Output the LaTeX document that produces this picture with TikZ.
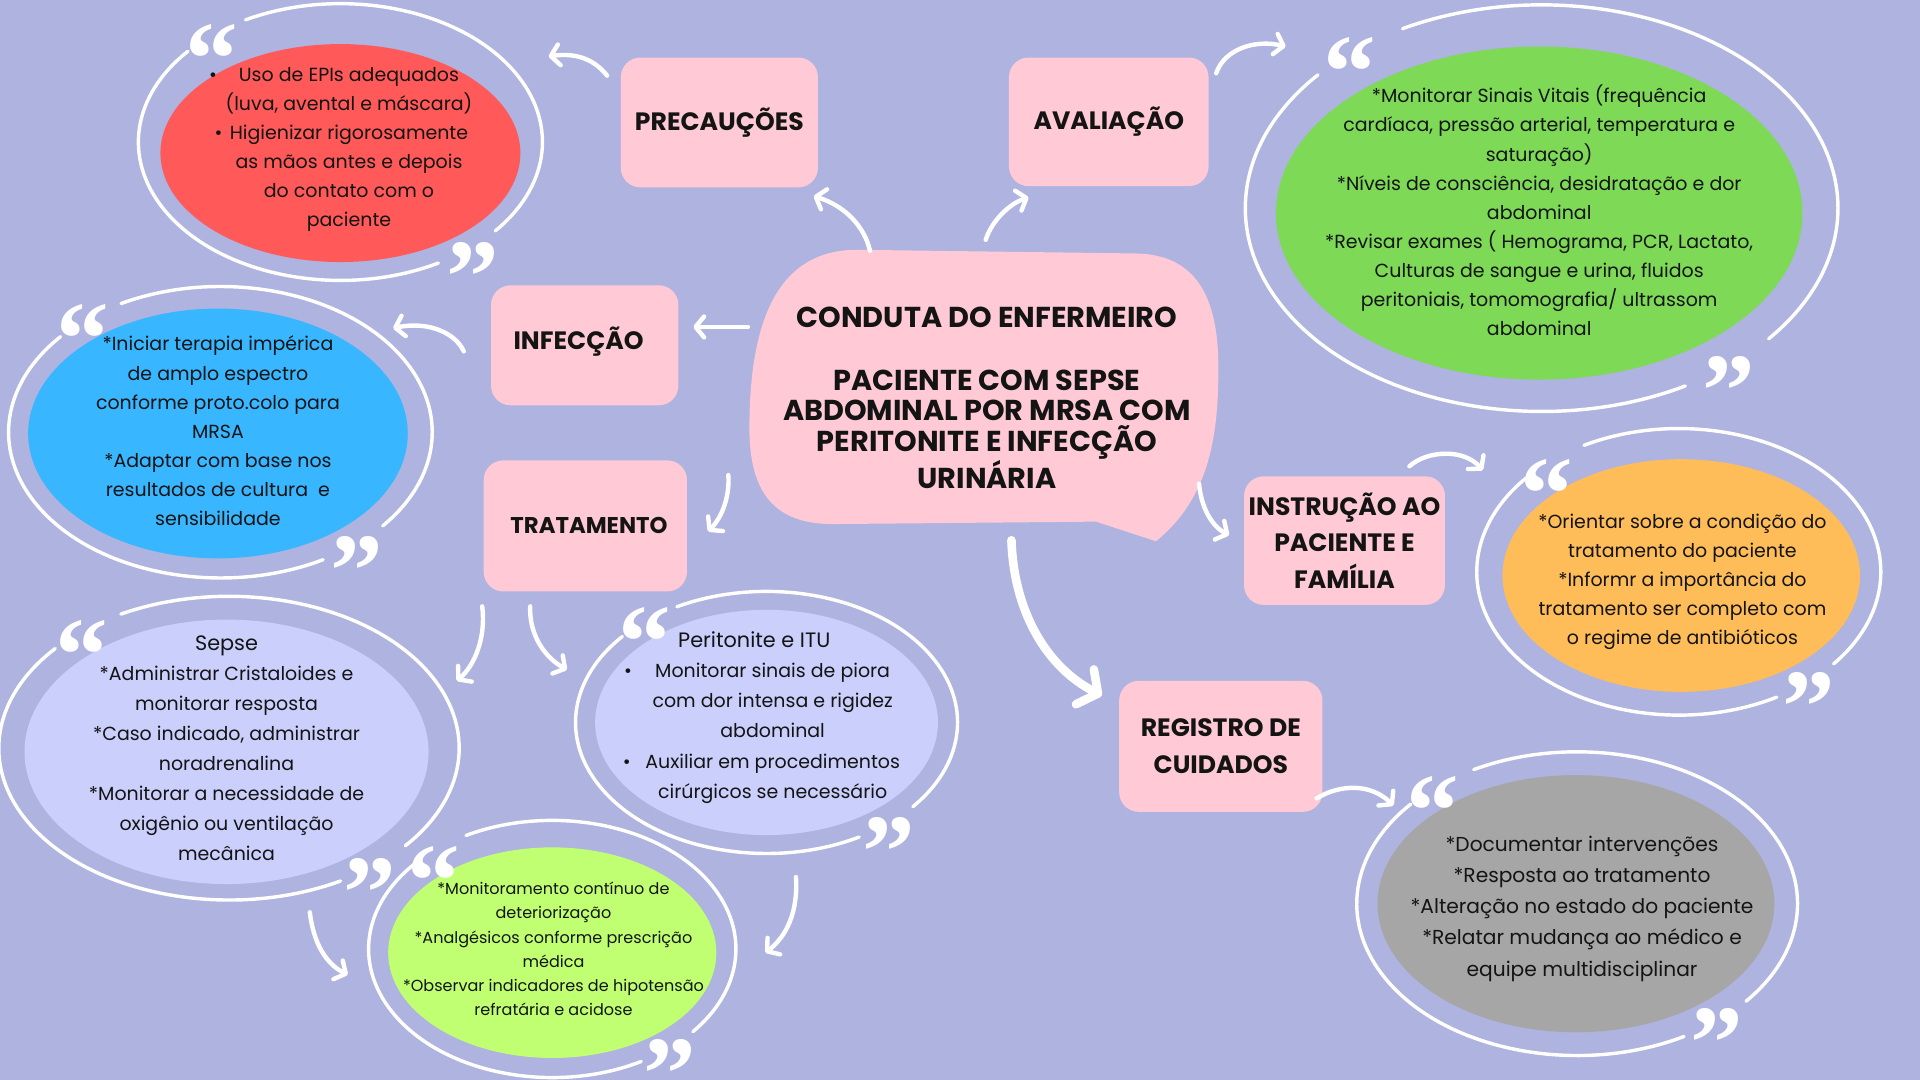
\documentclass[tikz,border=0pt]{standalone}
\usepackage{fontspec}
\setmainfont{Poppins}
\newfontfamily\titlefont{Poppins}
\newfontfamily\qfont{Liberation Serif}
\usetikzlibrary{shapes.geometric,arrows.meta}
\definecolor{bgc}{RGB}{174,179,224}
\definecolor{pinkc}{RGB}{255,202,214}
\definecolor{redc}{RGB}{255,89,89}
\definecolor{bluec}{RGB}{56,182,255}
\definecolor{greenc}{RGB}{126,217,87}
\definecolor{orangec}{RGB}{255,189,89}
\definecolor{grayc}{RGB}{166,166,166}
\definecolor{lavc}{RGB}{203,207,252}
\definecolor{limec}{RGB}{193,255,114}
\definecolor{inkc}{RGB}{20,20,20}
\newcommand\ringarcs[4]{%
  \draw[ringline] (#1,#2) ++(242:#3 and #4) arc[start angle=242,end angle=400,x radius=#3,y radius=#4];
  \draw[ringline] (#1,#2) ++(61:#3 and #4) arc[start angle=61,end angle=221,x radius=#3,y radius=#4];
}
\newcommand\hangbul[1]{\llap{\textbullet\hspace{#1}}}
\newcommand\qm[1]{\raisebox{-0.56em}[0.14em][0.14em]{#1}}
\begin{document}
\begin{tikzpicture}[x=1pt,y=-1pt,
  box/.style={fill=pinkc, rounded corners=16pt, inner sep=0pt, align=center, text=inkc,
    font=\titlefont\bfseries\fontsize{20.5}{30}\selectfont},
  titletext/.style={align=center, inner sep=0pt, text=inkc, font=\titlefont\bfseries\fontsize{23.5}{25}\selectfont},
  body/.style={align=center, inner sep=0pt, text=inkc, font=\fontsize{15.5}{23.8}\selectfont},
  blob/.style={ellipse, inner sep=0pt},
  ringline/.style={draw=white, line width=2.8pt, line cap=round},
  qmark/.style={text=white, anchor=center, inner sep=0pt, font=\qfont\bfseries\fontsize{86}{86}\selectfont},
  conn/.style={draw=white, line width=3.6pt, line cap=round, -{Straight Barb[round,length=7pt,width=17pt]}},
  bigconn/.style={draw=white, line width=7pt, line cap=round, -{Straight Barb[round,length=12pt,width=32pt]}}
]
\fill[bgc] (0,0) rectangle (1568,882);
\useasboundingbox (0,0) rectangle (1568,882);

% ---------- filled ellipses ----------
\node[blob, fill=redc, minimum width=294, minimum height=178] (redE) at (278,125) {};
\node[blob, fill=bluec, minimum width=310, minimum height=204] (blueE) at (178,354) {};
\node[blob, fill=greenc, minimum width=430, minimum height=272] (greenE) at (1257,174) {};
\node[blob, fill=orangec, minimum width=292, minimum height=190] (orangeE) at (1373,470) {};
\node[blob, fill=grayc, minimum width=324, minimum height=210] (grayE) at (1287,738) {};
\node[blob, fill=lavc, minimum width=330, minimum height=216] (sepseE) at (185,614) {};
\node[blob, fill=lavc, minimum width=280, minimum height=184] (peritE) at (626,590) {};
\node[blob, fill=limec, minimum width=268, minimum height=172] (limeE) at (451,778) {};

% ---------- white rings ----------
\ringarcs{278}{116}{165}{113}
\ringarcs{180}{353}{173}{119}
\ringarcs{1259}{170}{242}{166}
\ringarcs{1371}{467}{165}{117}
\ringarcs{1288}{738}{180}{124}
\ringarcs{187}{611}{188}{124}
\ringarcs{626}{590}{156}{107}
\ringarcs{451}{775}{150}{105}

% ---------- quote marks ----------
\node[qmark] (q1a) at (173,29) {\qm{“}};   \node[qmark] (q1b) at (386,207) {\qm{”}};
\node[qmark] (q2a) at (68,258) {\qm{“}};   \node[qmark] (q2b) at (291,447) {\qm{”}};
\node[qmark] (q3a) at (1102,40) {\qm{“}};  \node[qmark] (q3b) at (1412,300) {\qm{”}};
\node[qmark] (q4a) at (1263,384) {\qm{“}}; \node[qmark] (q4b) at (1477,558) {\qm{”}};
\node[qmark] (q5a) at (1170,643) {\qm{“}}; \node[qmark] (q5b) at (1402,833) {\qm{”}};
\node[qmark] (q6a) at (67,516) {\qm{“}};   \node[qmark] (q6b) at (302,710) {\qm{”}};
\node[qmark] (q7a) at (527,505) {\qm{“}};  \node[qmark] (q7b) at (726,677) {\qm{”}};
\node[qmark] (q8a) at (354,700) {\qm{“}};  \node[qmark] (q8b) at (547,858) {\qm{”}};

% ---------- ellipse texts ----------
\node[body] (redT) at (285,122) {\hangbul{18pt}Uso de EPIs adequados\\(luva, avental e máscara)\\\hangbul{6pt}Higienizar rigorosamente\\as mãos antes e depois\\do contato com o\\paciente};
\node[body] (blueT) at (178,352) {*Iniciar terapia impérica\\de amplo espectro\\conforme proto.colo para\\MRSA\\*Adaptar com base nos\\resultados de cultura~ e\\sensibilidade};
\node[body] (greenT) at (1257,172) {*Monitorar Sinais Vitais (frequência\\cardíaca, pressão arterial, temperatura e\\saturação)\\*Níveis de consciência, desidratação e dor\\abdominal\\*Revisar exames ( Hemograma, PCR, Lactato,\\Culturas de sangue e urina, fluidos\\peritoniais, tomomografia/ ultrassom\\abdominal};
\node[body] (orangeT) at (1374,475) {*Orientar sobre a condição do\\tratamento do paciente\\*Informr a importância do\\tratamento ser completo com\\o regime de antibióticos};
\node[body, font=\fontsize{16.5}{25.5}\selectfont] (grayT) at (1292,742) {*Documentar intervenções\\*Resposta ao tratamento\\*Alteração no estado do paciente\\*Relatar mudança ao médico e\\equipe multidisciplinar};
\node[body, font=\fontsize{15.5}{24.5}\selectfont] (sepseT) at (185,611) {{\fontsize{17}{24.5}\selectfont Sepse}\\*Administrar Cristaloides e\\monitorar resposta\\*Caso indicado, administrar\\noradrenalina\\*Monitorar a necessidade de\\oxigênio ou ventilação\\mecânica};
\node[body, font=\fontsize{15.5}{24.6}\selectfont] (peritT) at (631,586) {{\fontsize{17}{24.6}\selectfont Peritonite e ITU}\rule{30pt}{0pt}\\\hangbul{19pt}Monitorar sinais de piora\\com dor intensa e rigidez\\abdominal\\\hangbul{12pt}Auxiliar em procedimentos\\cirúrgicos se necessário};
\node[body, font=\fontsize{13.1}{19.8}\selectfont] (limeT) at (452,775) {*Monitoramento contínuo de\\deteriorização\\*Analgésicos conforme prescrição\\médica\\*Observar indicadores de hipotensão\\refratária e acidose};

% ---------- pink boxes ----------
\node[box, minimum width=161, minimum height=106] (prec) at (587.5,100) {PRECAUÇÕES};
\node[box, minimum width=163, minimum height=105] (aval) at (905.5,99.5) {AVALIAÇÃO};
\node[box, minimum width=153, minimum height=98] (infec) at (477.5,282) {\raisebox{12pt}{INFECÇÃO}\rule{10pt}{0pt}};
\node[box, minimum width=166, minimum height=107, font=\titlefont\bfseries\fontsize{18.6}{30}\selectfont] (trat) at (478,429.5) {\rule{6pt}{0pt}TRATAMENTO};
\node[box, minimum width=164, minimum height=105] (instr) at (1098,441.5) {INSTRUÇÃO AO\\PACIENTE E\\FAMÍLIA};
\node[box, minimum width=166, minimum height=107] (reg) at (997,609.5) {REGISTRO DE\\CUIDADOS};

% ---------- central speech bubble ----------
\fill[pinkc] (700,204) -- (928,207) .. controls (975,208) and (995,240) .. (995,300)
  .. controls (995,350) and (990,405) .. (944,442) -- (895,426) -- (680,428)
  .. controls (635,428) and (612,405) .. (612,350)
  .. controls (612,262) and (635,204) .. (700,204) -- cycle;
\node[minimum width=383, minimum height=224, inner sep=0pt] (conduta) at (803.5,316) {};
\node[titletext] (condT) at (806,325) {CONDUTA DO ENFERMEIRO\\[26pt]PACIENTE COM SEPSE\\ABDOMINAL POR MRSA COM\\PERITONITE E INFECÇÃO\\URINÁRIA};

% ---------- connectors ----------
\coordinate (aEnd) at (448,46);
\coordinate (dEnd) at (1050,38);
\coordinate (fEnd) at (321,268);
\coordinate (hEnd) at (373,556);
\coordinate (iEnd) at (463,547);
\coordinate (jEnd) at (284,796);
\coordinate (kEnd) at (625,778);
\coordinate (mEnd) at (1211,384);
\coordinate (oEnd) at (1138,658);

\draw[conn] ([shift={(-11,15)}]prec.north west) .. controls (485,48) and (470,43) .. (aEnd);
\draw[conn] ([shift={(-93,1)}]conduta.north) .. controls (706,185) and (690,168) .. ([shift={(77,7)}]prec.south);
\draw[conn] ([shift={(1.5,-8)}]conduta.north) .. controls (810,180) and (825,166) .. ([shift={(-65.5,9)}]aval.south);
\draw[conn] ([shift={(6,13)}]aval.north east) .. controls (1000,40) and (1025,32) .. (dEnd);
\draw[conn] ([shift={(-1,-49)}]conduta.west) -- ([shift={(12,-15)}]infec.east);
\draw[conn] ([shift={(-22,5)}]infec.west) .. controls (372,272) and (350,262) .. (fEnd);
\draw[conn] ([shift={(-17,72)}]conduta.west) .. controls (596,405) and (590,422) .. ([shift={(17,4.5)}]trat.east);
\draw[conn] ([shift={(-1,12)}]trat.south west) .. controls (397,520) and (388,543) .. (hEnd);
\draw[conn] ([shift={(-45,12)}]trat.south) .. controls (432,515) and (442,535) .. (iEnd);
\draw[conn] ([shift={(68,131)}]sepseE.center) .. controls (256,770) and (266,787) .. (jEnd);
\draw[conn] ([shift={(24,34)}]peritE.south) .. controls (652,745) and (642,765) .. (kEnd);
\draw[conn] ([shift={(-16,79)}]conduta.east) .. controls (981,415) and (990,430) .. ([shift={(-12,-4.5)}]instr.west);
\draw[conn] ([shift={(53,-8)}]instr.north) .. controls (1165,368) and (1195,366) .. (mEnd);
\draw[bigconn] ([shift={(22.5,13)}]conduta.south) .. controls (828,500) and (855,545) .. ([shift={(-14,-41.5)}]reg.west);
\draw[conn] ([shift={(-5,42.5)}]reg.east) .. controls (1095,640) and (1120,640) .. (oEnd);
\end{tikzpicture}
\end{document}
